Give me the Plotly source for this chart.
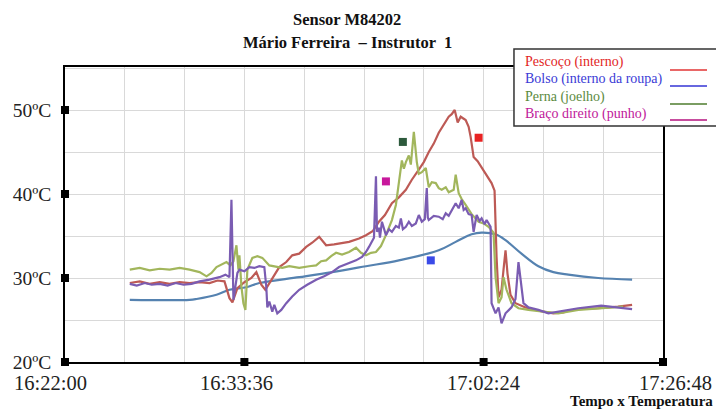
import plotly.graph_objects as go

# Sample position along the session (0..600) and temperatures in ºC
x_bolso = [65, 125, 132, 152, 165, 182, 195, 235, 268, 302, 335, 375, 392, 408, 418,
           432, 442, 458, 475, 490, 505, 535, 569]
t_bolso = [27.4, 27.4, 27.5, 28.0, 28.6, 28.9, 29.4, 30.1, 30.7, 31.4, 32.1, 33.3, 34.3,
           35.2, 35.4, 35.2, 34.5, 32.9, 31.4, 30.7, 30.4, 30.0, 29.8]

x_pescoco = [65, 75, 85, 95, 105, 115, 125, 135, 145, 153, 160, 165, 168, 173, 180, 187,
             192, 197, 201, 207, 215, 222, 228, 235, 242, 248, 255, 262, 270, 285, 295,
             302, 309, 315, 321, 328, 335, 342, 348, 355, 360, 365, 370, 375, 380, 385,
             388, 391, 394, 397, 402, 405, 407, 410, 414, 418, 423, 428, 431, 433, 435,
             438, 440, 442, 444, 447, 452, 462, 475, 490, 500, 505, 515, 535, 555, 569]
t_pescoco = [29.4, 29.6, 29.3, 29.5, 29.3, 29.5, 29.4, 29.5, 29.4, 29.7, 29.6, 27.6, 27.1,
             28.8, 29.5, 30.0, 30.7, 29.2, 28.6, 29.8, 31.3, 31.9, 32.7, 32.9, 33.7, 34.2,
             34.9, 33.9, 34.0, 34.3, 34.7, 35.1, 35.6, 36.7, 37.5, 38.9, 39.6, 40.5, 41.7,
             42.9, 43.8, 45.0, 46.0, 47.3, 48.3, 49.2, 49.5, 50.0, 48.5, 49.2, 48.8, 48.0,
             46.8, 44.4, 43.9, 43.2, 42.2, 41.3, 40.4, 32.5, 27.7, 28.6, 31.0, 33.3, 30.5,
             28.0, 27.0, 26.5, 26.1, 25.8, 25.9, 26.1, 26.3, 26.4, 26.6, 26.8]

x_perna = [65, 75, 85, 95, 105, 115, 125, 135, 142, 147, 152, 157, 162, 166, 169, 172,
           174, 175, 177, 179, 181, 183, 186, 188, 193, 198, 205, 212, 218, 225, 235,
           245, 252, 257, 262, 267, 272, 278, 285, 292, 297, 302, 307, 312, 317, 322,
           328, 332, 335, 338, 340, 342, 345, 347, 350, 353, 355, 358, 362, 365, 368,
           372, 375, 378, 382, 385, 390, 392, 395, 398, 402, 408, 415, 420, 425, 430,
           432, 435, 438, 440, 443, 448, 455, 465, 480, 495, 515, 535, 560]
t_perna = [31.0, 31.2, 30.9, 31.1, 31.0, 31.2, 31.0, 30.7, 30.2, 30.6, 31.3, 31.6, 31.9,
           31.5, 32.0, 33.9, 31.0, 32.7, 29.0, 27.0, 26.2, 31.0, 32.0, 32.4, 32.6, 32.4,
           31.5, 31.3, 31.2, 31.4, 31.2, 31.4, 31.5, 32.0, 32.1, 32.6, 33.0, 32.8, 33.1,
           33.6, 33.0, 32.7, 33.0, 33.1, 33.8, 35.1, 36.9, 38.7, 41.5, 44.0, 43.0, 43.8,
           44.6, 43.5, 47.4, 43.8, 42.4, 42.6, 43.1, 40.8, 41.4, 41.3, 40.7, 40.5, 40.8,
           40.2, 40.5, 42.3, 40.1, 39.4, 38.7, 37.6, 36.7, 36.5, 36.1, 35.4, 30.1, 27.0,
           27.7, 30.1, 28.6, 27.0, 26.4, 26.2, 26.0, 25.8, 26.2, 26.4, 26.6]

x_braco = [65, 72, 80, 87, 95, 103, 111, 119, 127, 135, 145, 155, 161, 165, 167, 168,
           169, 171, 173, 175, 180, 185, 190, 195, 200, 202, 203, 205, 207, 208, 210,
           213, 217, 222, 228, 235, 243, 252, 260, 268, 275, 285, 292, 298, 302, 305,
           308, 310, 312, 313, 315, 316, 318, 322, 325, 328, 332, 335, 337, 339, 342,
           345, 348, 352, 355, 358, 361, 363, 364, 365, 370, 375, 379, 382, 385, 388,
           392, 395, 398, 400, 402, 405, 408, 410, 413, 416, 418, 421, 423, 427, 428,
           432, 435, 438, 442, 448, 452, 455, 457, 460, 465, 475, 485, 495, 515, 538,
           555, 569]
t_braco = [29.3, 29.1, 29.4, 29.2, 29.3, 29.1, 29.4, 29.2, 29.3, 29.6, 29.8, 30.1, 30.4,
           30.1, 39.3, 30.0, 27.4, 29.0, 30.6, 31.0, 30.8, 31.3, 31.2, 31.4, 31.3, 28.9,
           26.5, 27.2, 26.4, 26.0, 26.8, 25.8, 26.2, 27.0, 27.8, 28.6, 29.2, 29.8, 30.2,
           30.7, 31.3, 31.8, 32.1, 32.5, 33.1, 33.7, 34.3, 34.8, 42.1, 35.5, 36.0, 34.8,
           36.7, 35.1, 35.8, 35.5, 36.2, 36.0, 37.1, 35.8, 36.1, 36.7, 36.2, 36.5, 37.5,
           36.7, 37.0, 40.7, 37.2, 36.9, 37.4, 37.3, 37.0, 37.7, 37.4, 38.1, 38.9, 38.3,
           39.3, 38.1, 38.3, 37.6, 37.5, 35.5, 37.5, 36.8, 37.1, 36.4, 36.9, 36.1, 27.0,
           25.8, 26.5, 24.6, 25.8, 26.5, 27.5, 31.9, 30.1, 27.0, 26.5, 26.2, 25.8, 26.0,
           26.4, 26.7, 26.5, 26.3]

# Small coloured tags on the curves
tag_x = [339, 322, 415, 367]
tag_t = [46.2, 41.5, 46.7, 32.1]
tag_colors = ["#2d5a3c", "#c8189c", "#e82222", "#3a4ae8"]

# Axis labels
time_ticks = [0, 180, 420, 600]
time_labels = ["16:22:00", "16:33:36", "17:02:24", "17:26:48"]
time_label_pos = [-0.025, 0.2876, 0.699, 1.0217]  # label centres (paper units)
temp_ticks = [20, 30, 40, 50]
temp_labels = ["20ºC", "30ºC", "40ºC", "50ºC"]

legend_names = ["Pescoço (interno)", "Bolso (interno da roupa)", "Perna (joelho)",
                "Braço direito (punho)"]
legend_text_colors = ["#e21f1f", "#3b3bd6", "#5b8a3e", "#c0189a"]
legend_line_colors = ["#e23434", "#3434d4", "#4e7d2e", "#b5127e"]

SERIF = "Liberation Serif, Times New Roman, serif"

fig = go.Figure()

series = [
    (x_bolso, t_bolso, "#5582b0", "spline"),
    (x_pescoco, t_pescoco, "#bd5a55", "linear"),
    (x_perna, t_perna, "#a2b65c", "linear"),
    (x_braco, t_braco, "#7a5cb2", "linear"),
]
for xs, ts, col, shp in series:
    fig.add_trace(go.Scatter(x=xs, y=ts, mode="lines",
                             line=dict(color=col, width=2.2, shape=shp),
                             showlegend=False, hoverinfo="skip"))

fig.add_trace(go.Scatter(x=tag_x, y=tag_t, mode="markers",
                         marker=dict(symbol="square", size=8, color=tag_colors),
                         showlegend=False, hoverinfo="skip"))

# Square tick marks on the axes
fig.add_trace(go.Scatter(
    x=time_ticks + [0] * (len(temp_ticks) - 1),
    y=[20] * len(time_ticks) + temp_ticks[1:],
    mode="markers", marker=dict(symbol="square", size=8, color="black"),
    cliponaxis=False, showlegend=False, hoverinfo="skip"))

fig.update_xaxes(range=[0, 600], tickvals=time_ticks, showticklabels=False,
                 showgrid=True, gridcolor="#d9d9d9", gridwidth=1,
                 minor=dict(dtick=60, tick0=0, showgrid=True, gridcolor="#d9d9d9"),
                 showline=True, linecolor="black", linewidth=1.5, mirror=True,
                 zeroline=False, ticks="")
fig.update_yaxes(range=[20, 55.12], tickvals=temp_ticks, ticktext=temp_labels,
                 showgrid=True, gridcolor="#d9d9d9", gridwidth=1,
                 minor=dict(dtick=5, tick0=20, showgrid=True, gridcolor="#d9d9d9"),
                 showline=True, linecolor="black", linewidth=1.5, mirror=True,
                 zeroline=False, ticks="", ticklabelstandoff=8,
                 tickfont=dict(family=SERIF, size=19.5, color="#222"))

# Legend box drawn by hand (texts on the left, line samples on the right)
shapes = [dict(type="rect", xref="paper", yref="paper", x0=0.7508, x1=1.095,
               y0=0.80, y1=1.061, fillcolor="white", line=dict(color="#333", width=1.5),
               layer="above")]
legend_text_y = [1.0169, 0.9593, 0.8983, 0.8407]
legend_line_y = [0.9898, 0.9356, 0.8746, 0.8203]
annotations = []
for name, tc, lc, ty, ly in zip(legend_names, legend_text_colors, legend_line_colors,
                                legend_text_y, legend_line_y):
    annotations.append(dict(text=name, xref="paper", yref="paper", x=0.7659, y=ty,
                            xanchor="left", yanchor="middle", showarrow=False,
                            font=dict(family=SERIF, size=14, color=tc)))
    shapes.append(dict(type="line", xref="paper", yref="paper", x0=1.0117, x1=1.0736,
                       y0=ly, y1=ly, line=dict(color=lc, width=1.5), layer="above"))

for lbl, px in zip(time_labels, time_label_pos):
    annotations.append(dict(text=lbl, xref="paper", yref="paper", x=px, y=-0.0712,
                            xanchor="center", yanchor="middle", showarrow=False,
                            font=dict(family=SERIF, size=20.5, color="#222")))

annotations += [
    dict(text="<b>Sensor M84202</b>", xref="paper", yref="paper", x=0.4716, y=1.1627,
         xanchor="center", yanchor="middle", showarrow=False,
         font=dict(family=SERIF, size=16.5, color="#111")),
    dict(text="<b>Mário Ferreira \u00a0– Instrutor \u00a01</b>", xref="paper", yref="paper",
         x=0.4716, y=1.0847, xanchor="center", yanchor="middle", showarrow=False,
         font=dict(family=SERIF, size=16.5, color="#111")),
    dict(text="<b>Tempo x Temperatura</b>", xref="paper", yref="paper", x=1.0870,
         y=-0.1320, xanchor="right", yanchor="middle", showarrow=False,
         font=dict(family=SERIF, size=15, color="#111")),
]

fig.update_layout(width=716, height=412, margin=dict(l=65, r=53, t=67, b=50),
                  paper_bgcolor="white", plot_bgcolor="white",
                  shapes=shapes, annotations=annotations, showlegend=False)

fig.write_html("out.html")
